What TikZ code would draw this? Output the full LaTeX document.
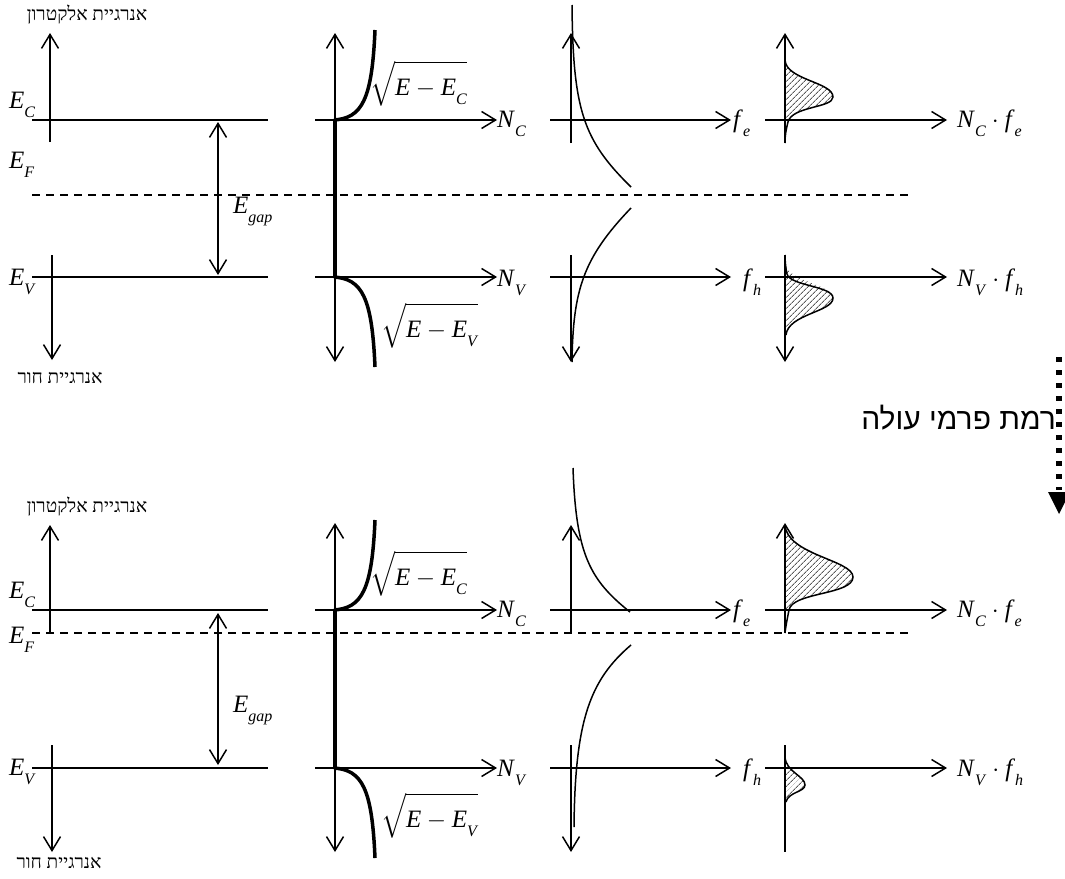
\documentclass[tikz,border=0pt]{standalone}
\usepackage{amsmath}
\usepackage{fontspec}
\setmainfont{Liberation Serif}
\newfontfamily\hebsmall[Script=Hebrew]{Liberation Serif}
\newfontfamily\hebbig[Script=Hebrew]{Liberation Sans}
\TeXXeTstate=1
\usetikzlibrary{arrows.meta,patterns.meta}
\newcommand\lab[2]{\textit{#1}\raisebox{-0.38em}{\fontsize{16}{16}\selectfont\textit{#2}}}
\newcommand\sq[1]{\sqrt{\rule[-0.2em]{0pt}{1.35em}#1}}
\newcommand\mfont{\fontsize{25}{30}\selectfont}
\tikzset{
  ln/.style={line width=1.5pt},
  barb/.tip={Straight Barb[length=14pt,width=17pt,line width=1.5pt]},
  ar/.style={ln,-barb},
  dar/.style={ln,barb-barb},
  thk/.style={line width=3.5pt},
  fermi/.style={line width=1.5pt, dash pattern=on 8pt off 6pt},
  lbl/.style={anchor=base west, inner sep=0pt, font=\mfont},
  heb/.style={inner sep=0pt, font=\hebsmall\fontsize{19}{22}\selectfont},
  hebb/.style={inner sep=0pt, anchor=east, font=\hebbig\fontsize{30}{34}\selectfont},
  hatch/.style={pattern={Lines[angle=45,distance=4pt,line width=1pt]}, pattern color=gray!70!black},
}
\begin{document}
\begin{tikzpicture}[x=1pt,y=-1pt]
\useasboundingbox (0,0) rectangle (1065,878);
\fill[white] (0,0) rectangle (1065,878);

% ================= TOP PANEL =================
\node[heb] (h1) at (87,15) {\beginR אנרגיית אלקטרון\endR};
\node[heb] (h2) at (60,378) {\beginR אנרגיית חור\endR};
\draw[ar] (50,142) -- (50,33);
\draw[ar] (52,255) -- (52,360);
\draw[ln] (32,120) -- (268,120);
\draw[ln] (32,277) -- (268,277);
\draw[dar] (218,122) -- (218,275);
\draw[fermi] (32,195) -- (908,195);
\node[lbl] (EC1) at (9,108) {\lab{E}{C}};
\node[lbl] (EF1) at (9,168) {\lab{E}{F}};
\node[lbl] (EV1) at (9,285) {\lab{E}{V}};
\node[lbl] (Eg1) at (233,213) {\lab{E}{gap}};

% DOS
\draw[dar] (335,33) -- (335,362);
\draw[thk] (335,120) -- (335,277);
\draw[ar] (315,120) -- (497,120);
\draw[ar] (315,277) -- (497,277);
\draw[thk] (334,120) .. controls (362,118) and (372,100) .. (375,30);
\draw[thk] (334,277) .. controls (362,279) and (372,297) .. (375,367);
\node[lbl] (NC1) at (497,127) {\lab{N}{C}};
\node[lbl] (NV1) at (497,286) {\lab{N}{V}};
\node[lbl] (sC1) at (370,95) {$\sq{\textit{E}-\lab{E}{C}}$};
\node[lbl] (sV1) at (381,337) {$\sq{\textit{E}-\lab{E}{V}}$};

% Fermi
\draw[ar] (571,143) -- (571,33);
\draw[ar] (571,255) -- (571,362);
\draw[ar] (550,120) -- (731,120);
\draw[ar] (550,277) -- (731,277);
\draw[ln] (572,5) .. controls (573,110) and (583,140) .. (631,187);
\draw[ln] (631,208) .. controls (583,258) and (573,290) .. (572,362);
\node[lbl] (fe1) at (733,127) {\lab{f}{e}};
\node[lbl] (fh1) at (743,286) {\lab{f}{h}};

% product
\fill[hatch] (785,60) .. controls (786,80) and (833,82) .. (833,97) .. controls (833,108) and (792,106) .. (788,122) -- (785,122) -- cycle;
\fill[hatch] (785,262) .. controls (786,282) and (833,284) .. (833,298) .. controls (833,312) and (788,314) .. (786,335) -- (785,335) -- cycle;
\draw[ar] (785,143) -- (785,33);
\draw[ar] (785,255) -- (785,362);
\draw[ar] (765,120) -- (947,120);
\draw[ar] (765,277) -- (947,277);
\draw[ln] (785,60) .. controls (786,80) and (833,82) .. (833,97) .. controls (833,108) and (792,106) .. (788,122) .. controls (786,130) and (785,135) .. (785,143);
\draw[ln] (785,255) .. controls (785,262) and (786,270) .. (787,274) .. controls (790,286) and (833,286) .. (833,298) .. controls (833,312) and (788,314) .. (786,335);
\node[lbl] (Nf1) at (957,127) {\lab{N}{C}\hspace{6pt}$\cdot$\hspace{6pt}\lab{f}{e}};
\node[lbl] (Nf2) at (957,286) {\lab{N}{V}\hspace{6pt}$\cdot$\hspace{6pt}\lab{f}{h}};

% ================= transition arrow =================
\draw[line width=6pt, dash pattern=on 5pt off 8pt] (1059,357) -- (1059,490);
\fill (1048,492) -- (1070,492) -- (1059,514) -- cycle;
\node[hebb] (rise) at (1056,418) {\beginR רמת פרמי עולה\endR};

% ================= BOTTOM PANEL =================
\node[heb] (h3) at (87,507) {\beginR אנרגיית אלקטרון\endR};
\node[heb] (h4) at (59,863) {\beginR אנרגיית חור\endR};
\draw[ar] (50,633) -- (50,525);
\draw[ar] (52,745) -- (52,852);
\draw[ln] (32,610) -- (268,610);
\draw[ln] (32,768) -- (268,768);
\draw[dar] (218,613) -- (218,765);
\draw[fermi] (32,633) -- (908,633);
\node[lbl] (EC2) at (9,598) {\lab{E}{C}};
\node[lbl] (EF2) at (9,643) {\lab{E}{F}};
\node[lbl] (EV2) at (9,775) {\lab{E}{V}};
\node[lbl] (Eg2) at (233,712) {\lab{E}{gap}};

% DOS
\draw[dar] (335,523) -- (335,852);
\draw[thk] (335,610) -- (335,768);
\draw[ar] (315,610) -- (497,610);
\draw[ar] (315,768) -- (497,768);
\draw[thk] (334,610) .. controls (362,608) and (372,590) .. (375,520);
\draw[thk] (334,768) .. controls (362,770) and (372,788) .. (375,858);
\node[lbl] (NC2) at (497,617) {\lab{N}{C}};
\node[lbl] (NV2) at (497,776) {\lab{N}{V}};
\node[lbl] (sC2) at (370,585) {$\sq{\textit{E}-\lab{E}{C}}$};
\node[lbl] (sV2) at (381,827) {$\sq{\textit{E}-\lab{E}{V}}$};

% Fermi
\draw[ar] (571,633) -- (571,525);
\draw[ar] (571,745) -- (571,852);
\draw[ar] (550,610) -- (731,610);
\draw[ar] (550,768) -- (731,768);
\draw[ln] (573,468) .. controls (576,555) and (590,580) .. (630,612);
\draw[ln] (631,645) .. controls (590,680) and (575,720) .. (574,827);
\node[lbl] (fe2) at (733,617) {\lab{f}{e}};
\node[lbl] (fh2) at (743,776) {\lab{f}{h}};

% product
\fill[hatch] (785,525) .. controls (787,555) and (853,560) .. (853,577) .. controls (853,595) and (792,592) .. (789,610) -- (785,610) -- cycle;
\fill[hatch] (785,757) .. controls (786,772) and (805,776) .. (805,785) .. controls (805,792) and (788,792) .. (786,802) -- (785,802) -- cycle;
\draw[ar] (785,633) -- (785,523);
\draw[ln] (785,745) -- (785,852);
\draw[ar] (765,610) -- (947,610);
\draw[ar] (765,768) -- (947,768);
\draw[ln] (785,525) .. controls (787,555) and (853,560) .. (853,577) .. controls (853,595) and (792,592) .. (789,610) .. controls (787,620) and (786,625) .. (785,633);
\draw[ln] (785,757) .. controls (786,772) and (805,776) .. (805,785) .. controls (805,792) and (788,792) .. (786,802);
\node[lbl] (Nf3) at (957,617) {\lab{N}{C}\hspace{6pt}$\cdot$\hspace{6pt}\lab{f}{e}};
\node[lbl] (Nf4) at (957,776) {\lab{N}{V}\hspace{6pt}$\cdot$\hspace{6pt}\lab{f}{h}};
\end{tikzpicture}
\end{document}
